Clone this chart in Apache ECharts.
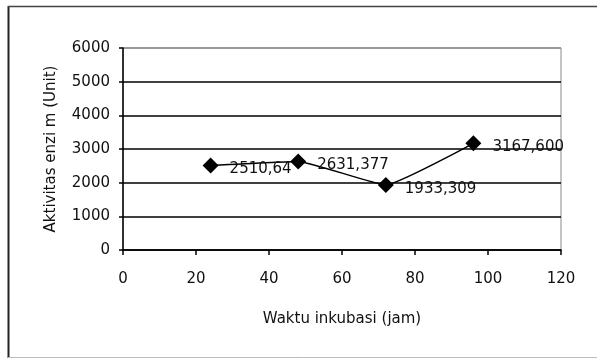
<!DOCTYPE html>
<html>
<head>
<meta charset="utf-8">
<script src="https://cdn.jsdelivr.net/npm/echarts@6/dist/echarts.min.js"></script>
<style>
  html, body { margin: 0; padding: 0; background: #fff; }
  #chart { width: 597px; height: 359px; }
</style>
</head>
<body>
<div id="chart"></div>
<script>
// data
var hours = [24, 48, 72, 96];
var activity = [2510.64, 2631.377, 1933.309, 3167.600];
var pointLabels = ["2510,64", "2631,377", "1933,309", "3167,600"];
var yTicks = [0, 1000, 2000, 3000, 4000, 5000, 6000];
var xTicks = [0, 20, 40, 60, 80, 100, 120];

var font = "DejaVu Sans";
var myChart = echarts.init(document.getElementById('chart'));

var points = hours.map(function (h, i) {
  return [h, activity[i]];
});

option = {
  backgroundColor: "#fff",
  animation: false,
  textStyle: { fontFamily: font },
  grid: {
    left: 123,
    right: 36,
    top: 48,
    bottom: 109,
    show: true,
    borderColor: "#8a8a8a",
    borderWidth: 1
  },
  xAxis: {
    type: "value",
    min: xTicks[0],
    max: xTicks[xTicks.length - 1],
    interval: 20,
    name: "Waktu inkubasi (jam)",
    nameLocation: "middle",
    nameGap: 62,
    nameTextStyle: { fontFamily: font, fontSize: 15, color: "#111" },
    axisLine: { show: true, lineStyle: { color: "#000", width: 1.5 } },
    axisTick: { show: true, inside: false, length: 5, lineStyle: { color: "#000", width: 1.5 } },
    axisLabel: { margin: 22, fontFamily: font, fontSize: 15, color: "#111",
      formatter: function (v) { return String(v); } },
    splitLine: { show: false }
  },
  yAxis: {
    type: "value",
    min: yTicks[0],
    max: yTicks[yTicks.length - 1],
    interval: 1000,
    name: "Aktivitas enzi m (Unit)",
    nameLocation: "middle",
    nameGap: 64,
    nameTextStyle: { fontFamily: font, fontSize: 15, color: "#111" },
    axisLine: { show: true, lineStyle: { color: "#000", width: 1.5 } },
    axisTick: { show: true, inside: false, length: 4, lineStyle: { color: "#000", width: 1.5 } },
    axisLabel: { margin: 13, fontFamily: font, fontSize: 15, color: "#111",
      formatter: function (v) { return String(v); } },
    splitLine: {
      show: true,
      lineStyle: {
        color: ["#000", "#000", "#000", "#000", "#000", "#000", "#8a8a8a"],
        width: 1.5
      }
    }
  },
  series: [
    {
      type: "line",
      data: points,
      smooth: 0.12,
      symbol: "diamond",
      symbolSize: 16,
      lineStyle: { color: "#000", width: 1.5 },
      itemStyle: { color: "#000" },
      label: {
        show: true,
        position: "right",
        distance: 11,
        offset: [0, 4],
        fontFamily: font,
        fontSize: 15,
        color: "#111",
        formatter: function (p) {
          return pointLabels[p.dataIndex];
        }
      },
      z: 5
    }
  ],
  graphic: [
    { type: "line", shape: { x1: 8.5, y1: 6, x2: 8.5, y2: 358 }, style: { stroke: "#222", lineWidth: 2 } },
    { type: "line", shape: { x1: 8, y1: 6.5, x2: 597, y2: 6.5 }, style: { stroke: "#444", lineWidth: 1.5 } },
    { type: "line", shape: { x1: 8, y1: 357.5, x2: 597, y2: 357.5 }, style: { stroke: "#bbb", lineWidth: 1 } }
  ]
};

myChart.setOption(option);
</script>
</body>
</html>
